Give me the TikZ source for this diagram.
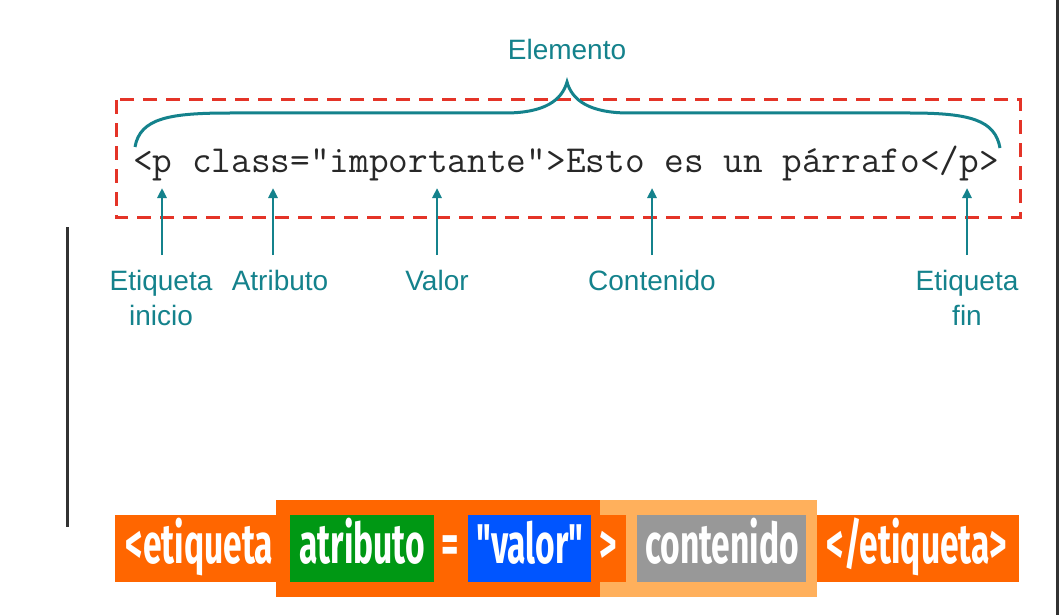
\documentclass[tikz,border=0pt]{standalone}
\usepackage{fontspec}
\setmainfont{Liberation Sans}
\newfontfamily\barfont{Fira Sans}[FakeStretch=0.6]
\usetikzlibrary{arrows.meta}
\definecolor{tealc}{RGB}{20,130,140}
\definecolor{dashred}{RGB}{228,52,40}
\definecolor{orD}{RGB}{255,102,0}
\definecolor{orL}{RGB}{255,176,92}
\definecolor{grn}{RGB}{0,152,20}
\definecolor{blu}{RGB}{0,85,255}
\definecolor{gry}{RGB}{152,152,152}
\definecolor{rule}{RGB}{50,50,50}
\definecolor{codec}{RGB}{40,40,40}
\begin{document}
\begin{tikzpicture}[x=1pt,y=-1pt,
  lab/.style={text=tealc, font=\fontsize{28}{35}\selectfont, align=center, anchor=north, inner sep=0pt},
  arr/.style={draw=tealc, line width=2.5pt, -{Triangle[length=10pt,width=9pt]}},
  bar/.style={text=white, font=\barfont\bfseries\fontsize{56}{60}\selectfont, anchor=base, inner sep=0pt}]
\useasboundingbox (0,0) rectangle (1059,615);
\fill[white] (0,0) rectangle (1059,615);
% side rules
\draw[rule, line width=3pt] (67,227) -- (67,527);
\draw[rule, line width=2.5pt] (1057.5,0) -- (1057.5,615);
% title
\node[text=tealc, font=\fontsize{28}{32}\selectfont, anchor=base, inner sep=0pt] (elem) at (567,60) {Elemento};
% dashed box
\draw[dashred, line width=3pt, dash pattern=on 14pt off 9pt] (116,100) rectangle (1020,217);
% brace
\draw[tealc, line width=3pt] (135,147) .. controls (140,118) and (170,113) .. (230,113) -- (505,113)
  .. controls (545,113) and (562,100) .. (567,82) .. controls (572,100) and (589,113) .. (629,113)
  -- (910,113) .. controls (970,113) and (995,120) .. (1000,148);
% code
\node[text=codec, font=\ttfamily\fontsize{38.2}{40}\selectfont, anchor=base west, inner sep=0pt] (code) at (133,172) {<p class="importante">Esto es un párrafo</p>};
% labels
\node[lab] (l1) at (161,270) {Etiqueta\\inicio};
\node[lab] (l2) at (280,270) {Atributo};
\node[lab] (l3) at (437,270) {Valor};
\node[lab] (l4) at (652,270) {Contenido};
\node[lab] (l5) at (967,270) {Etiqueta\\fin};
\coordinate (t1) at (162,188);
\coordinate (t2) at (273,188);
\coordinate (t3) at (437,188);
\coordinate (t4) at (652,188);
\coordinate (t5) at (967,188);
\draw[arr] (t1 |- l1.north) ++(0,-15) -- (t1);
\draw[arr] (t2 |- l2.north) ++(0,-15) -- (t2);
\draw[arr] (t3 |- l3.north) ++(0,-15) -- (t3);
\draw[arr] (t4 |- l4.north) ++(0,-15) -- (t4);
\draw[arr] (t5 |- l5.north) ++(0,-15) -- (t5);
% bottom bar
\fill[orD] (276,500) rectangle (600,597);
\fill[orL] (600,500) rectangle (817,597);
\fill[orD] (115,515) rectangle (276,582);
\fill[orD] (817,515) rectangle (1019,582);
\fill[orD] (591,515) rectangle (626,582);
\fill[grn] (290,515) rectangle (434,582);
\fill[blu] (468,515) rectangle (591,582);
\fill[gry] (637,515) rectangle (806,582);
\node[bar] (b1) at (199.5,563) {<etiqueta};
\node[bar] (b2) at (362,563) {atributo};
\node[bar] (b3) at (450,563) {=};
\node[bar] (b4) at (530,563) {"valor"};
\node[bar] (b5) at (608,563) {>};
\node[bar] (b6) at (722,563) {contenido};
\node[bar] (b7) at (917,563) {</etiqueta>};
\end{tikzpicture}
\end{document}
